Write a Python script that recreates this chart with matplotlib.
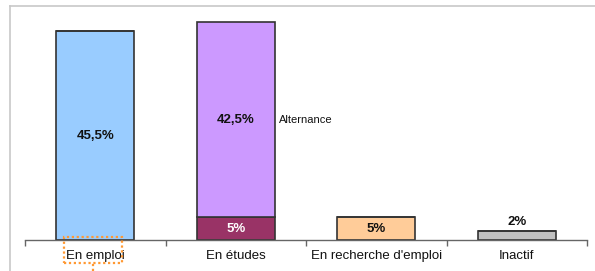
import matplotlib
matplotlib.use("Agg")
import matplotlib.pyplot as plt
import matplotlib.transforms as mtransforms
from matplotlib.patches import Rectangle
from matplotlib.lines import Line2D

plt.rcParams["font.family"] = ["Liberation Sans", "DejaVu Sans"]

# data
categories = ["En emploi", "En études", "En recherche d'emploi", "Inactif"]
base_values = [45.5, 5, 5, 2]          # bottom segment of each bar
alternance_values = [0, 42.5, 0, 0]    # stacked segment (En études only)
base_colors = ["#99ccff", "#993366", "#ffcc99", "#c0c0c0"]
alt_color = "#cc99ff"
base_labels = ["45,5%", "5%", "5%", "2%"]
alt_label = "42,5%"

W, H = 595, 271
fig = plt.figure(figsize=(W / 100, H / 100), dpi=100)
ax = fig.add_axes([25 / W, 31 / H, 562 / W, 229.5 / H])

x = list(range(len(categories)))
bw = 0.555
ax.bar(x, base_values, width=bw, color=base_colors, edgecolor="#333333", linewidth=1.2, zorder=2)
ax.bar(x, alternance_values, width=bw, bottom=base_values, color=alt_color,
       edgecolor="#333333", linewidth=1.2, zorder=2)

ax.set_xlim(-0.5, len(categories) - 0.5)
ax.set_ylim(0, 50)

# value labels
ax.text(0, base_values[0] / 2, base_labels[0], ha="center", va="center",
        fontsize=9.5, fontweight="bold", color="#111111")
ax.text(1, base_values[1] / 2, base_labels[1], ha="center", va="center",
        fontsize=9.5, fontweight="bold", color="white")
ax.text(1, base_values[1] + alternance_values[1] / 2, alt_label, ha="center", va="center",
        fontsize=9.5, fontweight="bold", color="#111111")
ax.text(1 + bw / 2 + 0.03, base_values[1] + alternance_values[1] / 2, "Alternance",
        ha="left", va="center", fontsize=8, color="#111111")
ax.text(2, base_values[2] / 2, base_labels[2], ha="center", va="center",
        fontsize=9.5, fontweight="bold", color="#111111")
ax.text(3, base_values[3] + 0.7, base_labels[3], ha="center", va="bottom",
        fontsize=9.5, fontweight="bold", color="#111111")

# axes styling
for side in ["top", "right", "left"]:
    ax.spines[side].set_visible(False)
ax.spines["bottom"].set_color("#666666")
ax.spines["bottom"].set_linewidth(1.0)
ax.set_yticks([])
ax.set_xticks([i - 0.5 for i in range(len(categories) + 1)])
ax.set_xticklabels([])
ax.tick_params(axis="x", direction="out", length=4, color="#666666", width=1.0)

# category labels on a common baseline
trans = mtransforms.offset_copy(ax.get_xaxis_transform(), fig=fig, x=0, y=-13.5, units="points")
for xi, name in zip(x, categories):
    ax.text(xi, 0, name, transform=trans, ha="center", va="baseline",
            fontsize=9.5, color="#111111", clip_on=False)

# outer frame (top and left edge)
fig.add_artist(Line2D([10 / W, 1], [1 - 6 / H, 1 - 6 / H], color="#c8c8c8", lw=1.2))
fig.add_artist(Line2D([10 / W, 10 / W], [0, 1 - 6 / H], color="#c8c8c8", lw=1.2))

# dotted orange selection box around first label
fig.add_artist(Rectangle((64 / W, 1 - 263 / H), 58 / W, 26 / H, fill=False,
                         edgecolor="#ff9933", linestyle=(0, (1, 1.2)), lw=1.6))
fig.add_artist(Line2D([93 / W, 93 / W], [0, 1 - 263 / H], color="#ff9933",
                      linestyle=(0, (1, 1.2)), lw=1.6))

fig.savefig("out.png", dpi=100)
